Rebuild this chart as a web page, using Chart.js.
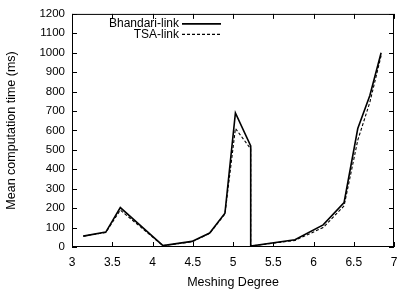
<!DOCTYPE html>
<html><head><meta charset="utf-8">
<script src="https://cdn.jsdelivr.net/npm/chart.js@4/dist/chart.umd.min.js"></script>
<style>html,body{margin:0;padding:0;background:#fff}#wrap{width:398px;height:290px}</style>
</head><body><div id="wrap"><canvas id="c" width="398" height="290"></canvas></div>
<script>
const bhandariX = [3.14, 3.42, 3.60, 4.13, 4.49, 4.71, 4.90, 5.03, 5.22, 5.22, 5.77, 6.12, 6.38, 6.55, 6.70, 6.84];
const bhandariY = [56, 77, 203, 7, 29, 72, 174, 690, 520, 5, 37, 114, 229, 610, 780, 1000];
const tsaX = [3.14, 3.42, 3.60, 4.13, 4.49, 4.71, 4.90, 5.03, 5.22, 5.22, 5.77, 6.12, 6.38, 6.55, 6.70, 6.84];
const tsaY = [56, 75, 190, 7, 27, 70, 170, 610, 505, 5, 34, 100, 212, 550, 745, 985];
const xTicks = [3, 3.5, 4, 4.5, 5, 5.5, 6, 6.5, 7];
const yTicks = [0, 100, 200, 300, 400, 500, 600, 700, 800, 900, 1000, 1100, 1200];
const seriesNames = ['Bhandari-link', 'TSA-link'];

const FONT = '"Liberation Sans", Arial, sans-serif';
const toPts = (xs, ys) => xs.map((x, i) => ({x: x, y: ys[i]}));

const framePlugin = {
  id: 'frame',
  afterDatasetsDraw(chart) {
    const {ctx, chartArea: a, scales} = chart;
    ctx.save();
    ctx.strokeStyle = '#000';
    ctx.lineWidth = 1;
    ctx.strokeRect(a.left + 0.5, a.top + 0.5, a.right - a.left - 1, a.bottom - a.top - 1);
    ctx.beginPath();
    const tl = 5;
    xTicks.forEach(v => {
      const px = Math.round(scales.x.getPixelForValue(v)) + 0.5;
      ctx.moveTo(px, a.bottom); ctx.lineTo(px, a.bottom - tl);
      ctx.moveTo(px, a.top); ctx.lineTo(px, a.top + tl);
    });
    yTicks.forEach(v => {
      const py = Math.round(scales.y.getPixelForValue(v)) + 0.5;
      ctx.moveTo(a.left, py); ctx.lineTo(a.left + tl, py);
      ctx.moveTo(a.right, py); ctx.lineTo(a.right - tl, py);
    });
    ctx.stroke();
    // legend
    ctx.font = '12px ' + FONT;
    ctx.fillStyle = '#000';
    ctx.textAlign = 'right';
    ctx.textBaseline = 'middle';
    const textRight = a.left + 107;
    const lx0 = a.left + 110, lx1 = a.left + 149;
    const rows = [a.top + 10, a.top + 20.5];
    chart.data.datasets.forEach((ds, i) => {
      ctx.fillText(seriesNames[i], textRight, rows[i]);
      ctx.beginPath();
      ctx.lineWidth = ds.borderWidth;
      ctx.setLineDash(ds.borderDash || []);
      ctx.moveTo(lx0, rows[i]); ctx.lineTo(lx1, rows[i]);
      ctx.stroke();
      ctx.setLineDash([]);
    });
    ctx.restore();
  }
};

new Chart(document.getElementById('c'), {
  type: 'scatter',
  data: {
    datasets: [
      {label: seriesNames[0], data: toPts(bhandariX, bhandariY), showLine: true, borderColor: '#000', borderWidth: 1.6, pointRadius: 0, fill: false, tension: 0},
      {label: seriesNames[1], data: toPts(tsaX, tsaY), showLine: true, borderColor: '#000', borderWidth: 1.1, borderDash: [3, 2], pointRadius: 0, fill: false, tension: 0}
    ]
  },
  options: {
    responsive: false,
    animation: false,
    devicePixelRatio: 1,
    layout: {padding: {top: 13, right: 4, left: 4, bottom: 0}},
    plugins: {legend: {display: false}, tooltip: {enabled: false}},
    scales: {
      x: {
        type: 'linear', min: 3, max: 7,
        afterBuildTicks: s => { s.ticks = xTicks.map(v => ({value: v})); },
        afterFit: s => { s.height = 43; s.paddingRight = 0; },
        grid: {display: false, drawTicks: false},
        border: {display: false},
        ticks: {color: '#000', font: {family: FONT, size: 12}, padding: 8, maxRotation: 0, autoSkip: false, callback: v => String(v)},
        title: {display: true, text: 'Meshing Degree', color: '#000', font: {family: FONT, size: 12.5}, padding: {top: 1, bottom: 0}}
      },
      y: {
        type: 'linear', min: 0, max: 1200,
        afterBuildTicks: s => { s.ticks = yTicks.map(v => ({value: v})); },
        afterFit: s => { s.width = 68; },
        grid: {display: false, drawTicks: false},
        border: {display: false},
        ticks: {color: '#000', font: {family: FONT, size: 11.5}, padding: 7, autoSkip: false, callback: v => String(v)},
        title: {display: true, text: 'Mean computation time (ms)', color: '#000', font: {family: FONT, size: 12.5}, padding: {top: 0, bottom: 4}}
      }
    }
  },
  plugins: [framePlugin]
});
</script></body></html>
